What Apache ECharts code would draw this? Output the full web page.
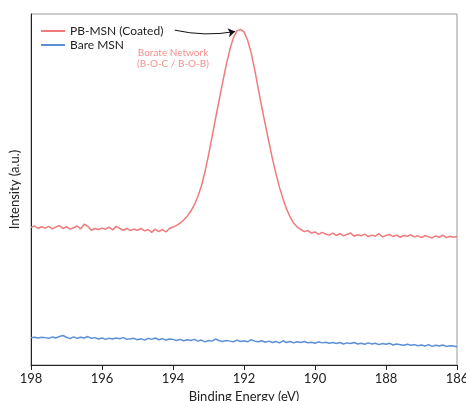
<!DOCTYPE html>
<html>
<head>
<meta charset="utf-8">
<script src="https://cdn.jsdelivr.net/npm/echarts@6/dist/echarts.min.js"></script>
<style>
  html, body { margin: 0; padding: 0; background: #fff; }
  #chart { width: 466px; height: 401px; }
</style>
</head>
<body>
<div id="chart"></div>
<script>
// binding energy grid (eV), high to low
const energies = [
  198.0,197.9,197.8,197.7,197.6,197.5,197.4,197.3,197.2,197.1,
  197.0,196.9,196.8,196.7,196.6,196.5,196.4,196.3,196.2,196.1,
  196.0,195.9,195.8,195.7,195.6,195.5,195.4,195.3,195.2,195.1,
  195.0,194.9,194.8,194.7,194.6,194.5,194.4,194.3,194.2,194.1,
  194.0,193.9,193.8,193.7,193.6,193.5,193.4,193.3,193.2,193.1,
  193.0,192.9,192.8,192.7,192.6,192.5,192.4,192.3,192.2,192.1,
  192.0,191.9,191.8,191.7,191.6,191.5,191.4,191.3,191.2,191.1,
  191.0,190.9,190.8,190.7,190.6,190.5,190.4,190.3,190.2,190.1,
  190.0,189.9,189.8,189.7,189.6,189.5,189.4,189.3,189.2,189.1,
  189.0,188.9,188.8,188.7,188.6,188.5,188.4,188.3,188.2,188.1,
  188.0,187.9,187.8,187.7,187.6,187.5,187.4,187.3,187.2,187.1,
  187.0,186.9,186.8,186.7,186.6,186.5,186.4,186.3,186.2,186.1,
  186.0
];

// PB-MSN (Coated), intensity a.u.
const coated = [
  39.2,39.6,38.9,39.4,39.0,39.5,38.8,39.3,39.7,38.9,
  39.4,38.7,39.1,39.6,38.8,40.1,39.5,38.4,38.9,38.6,
  39.0,38.7,39.3,38.5,39.5,38.9,38.4,38.9,38.3,38.7,
  38.4,38.9,38.2,38.6,37.8,38.7,38.0,38.6,37.9,38.9,
  39.3,39.8,40.4,41.3,42.4,43.8,45.6,48.0,51.0,55.0,
  59.8,65.0,70.3,75.5,80.6,85.5,89.8,93.2,95.2,95.6,
  94.9,92.6,89.0,84.2,78.8,73.5,68.5,63.6,58.8,54.5,
  50.6,47.3,44.4,42.1,40.4,39.3,38.6,38.0,38.3,37.6,
  37.9,37.2,37.8,37.3,37.0,37.6,36.9,37.4,36.8,37.2,
  37.6,36.7,37.1,36.8,37.3,36.6,37.0,36.7,37.4,36.5,
  36.9,37.2,36.6,37.0,36.4,36.9,36.7,37.1,36.5,36.8,
  36.3,36.9,36.5,36.2,36.8,36.4,37.0,36.3,36.7,36.4,
  36.6
];

// Bare MSN, intensity a.u.
const bare = [
  7.8,7.9,7.7,7.9,7.8,7.6,8.0,7.7,8.1,8.4,
  7.9,7.5,8.0,7.6,7.9,7.7,8.1,7.6,7.8,7.4,
  7.7,7.3,7.6,7.4,7.7,7.5,7.8,7.3,7.5,7.6,
  7.2,7.5,7.1,7.6,7.3,7.7,7.2,7.5,7.1,7.4,
  7.3,7.0,7.3,6.9,7.2,7.0,7.3,6.8,7.1,6.6,
  7.0,6.8,7.4,6.9,6.7,7.0,6.8,6.6,7.1,6.7,
  6.9,6.6,7.2,6.8,6.6,6.9,6.5,6.8,6.4,6.7,
  6.3,6.9,6.4,6.7,6.3,6.6,6.4,6.7,6.3,6.5,
  6.2,6.6,6.3,6.5,6.2,6.4,6.1,6.4,6.0,6.3,
  6.1,6.4,6.0,6.2,5.9,6.3,6.0,6.2,5.8,6.1,
  5.9,6.2,5.7,6.0,5.8,5.6,5.9,5.6,5.8,5.5,
  5.7,5.4,5.8,5.3,5.6,5.4,5.7,5.3,5.5,5.4,
  5.2
];

const xTicks = [198, 196, 194, 192, 190, 188, 186];

// annotation arrow: from beside the legend to the peak top
const arrowFrom = [193.95, 95.4];
const arrowTo = [192.25, 95.0];

const pair = (ys) => energies.map((e, i) => [e, ys[i]]);

const chart = echarts.init(document.getElementById('chart'));

chart.setOption({
  animation: false,
  textStyle: { fontFamily: 'Lato, "Noto Sans", sans-serif' },
  grid: {
    left: 31, right: 9, top: 14, bottom: 36,
    outerBoundsMode: 'none',
    containLabel: false,
    show: true, borderColor: '#999', borderWidth: 1
  },
  legend: {
    orient: 'vertical',
    left: 36, top: 20,
    itemWidth: 24, itemHeight: 2, itemGap: 2,
    icon: 'rect',
    textStyle: { fontSize: 12, color: '#222' },
    data: ['PB-MSN (Coated)', 'Bare MSN']
  },
  xAxis: {
    type: 'value',
    min: 186, max: 198, interval: 2,
    inverse: true,
    name: 'Binding Energy (eV)',
    nameLocation: 'middle',
    nameGap: 23,
    nameTextStyle: { fontSize: 13, color: '#222' },
    axisLine: { lineStyle: { color: '#222', width: 1 } },
    axisTick: { show: true, length: 5, lineStyle: { color: '#222' } },
    axisLabel: {
      fontSize: 13, color: '#222', margin: 7,
      formatter: (v) => xTicks.includes(v) ? String(v) : ''
    },
    splitLine: { show: false }
  },
  yAxis: {
    type: 'value',
    min: 0, max: 100,
    name: 'Intensity (a.u.)',
    nameLocation: 'middle',
    nameGap: 10,
    nameTextStyle: { fontSize: 13, color: '#222' },
    axisLine: { show: true, lineStyle: { color: '#222', width: 1 } },
    axisTick: { show: false },
    axisLabel: { show: false },
    splitLine: { show: false }
  },
  series: [
    {
      name: 'PB-MSN (Coated)',
      type: 'line',
      data: pair(coated),
      showSymbol: false,
      color: '#F07B7B',
      lineStyle: { width: 1.5 },
      z: 3,
      markPoint: {
        silent: true,
        symbol: 'circle', symbolSize: 0,
        label: {
          show: true,
          color: '#F4908E',
          fontSize: 10,
          lineHeight: 11,
          formatter: 'Borate Network\n(B-O-C / B-O-B)'
        },
        data: [{ coord: [194.0, 87.3] }]
      }
    },
    {
      name: 'Bare MSN',
      type: 'line',
      data: pair(bare),
      showSymbol: false,
      color: '#5B90D6',
      lineStyle: { width: 1.5 },
      z: 2
    },
    {
      name: 'arrow',
      type: 'lines',
      coordinateSystem: 'cartesian2d',
      silent: true,
      symbol: ['none', 'arrow'],
      symbolSize: 7,
      lineStyle: { color: '#111', width: 1, opacity: 1, curveness: -0.1 },
      data: [{ coords: [arrowFrom, arrowTo] }],
      z: 5
    }
  ]
});
</script>
</body>
</html>
